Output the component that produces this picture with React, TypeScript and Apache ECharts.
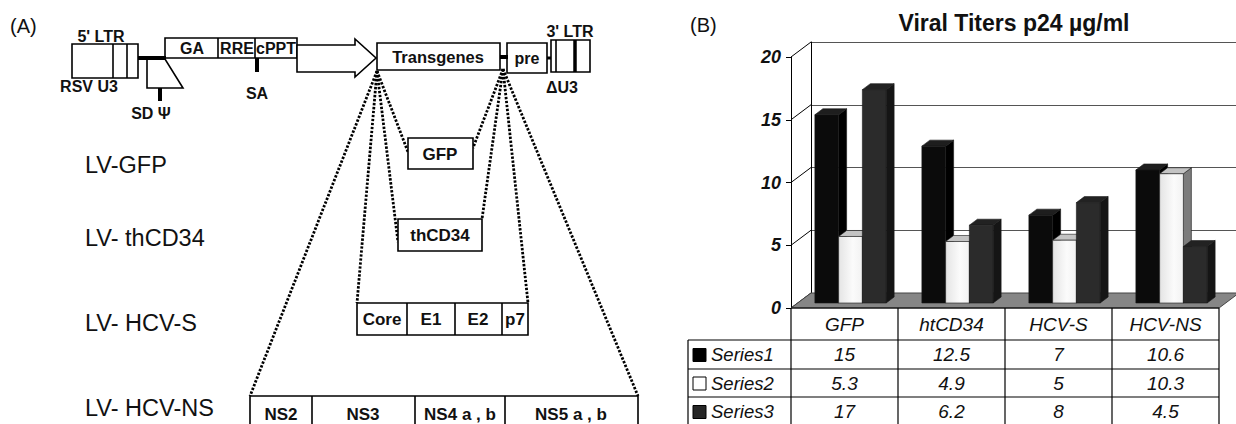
import React, { useEffect, useRef } from 'react';
import * as echarts from 'echarts';

// ---------- data ----------
const categories = ['GFP', 'htCD34', 'HCV-S', 'HCV-NS'];
const seriesNames = ['Series1', 'Series2', 'Series3'];
const series1 = [15, 12.5, 7, 10.6];
const series2 = [5.3, 4.9, 5, 10.3];
const series3 = [17, 6.2, 8, 4.5];
const yTicks = [0, 5, 10, 15, 20];
const chartTitle = 'Viral Titers p24 \u00b5g/ml';

const constructLabels = ['LV-GFP', 'LV- thCD34', 'LV- HCV-S', 'LV- HCV-NS'];
const vectorParts = ['GA', 'RRE', 'cPPT'];
const hcvSParts = ['Core', 'E1', 'E2', 'p7'];
const hcvNsParts = ['NS2', 'NS3', 'NS4 a , b', 'NS5 a , b'];

// ---------- styling / layout ----------
const FONT = '"Liberation Sans", Arial, Helvetica, sans-serif';
const FX = 791; // front plane left
const FY0 = 308; // value 0 on front plane
const FY20 = 57; // value 20 on front plane
const FW = 428; // front plane width
const DX = 20; // depth offset
const DY = -15;

const barStyles = [
  { front: '#0b0b0b', top: '#1e1e1e', side: '#000000' },
  { front: 'grad', top: '#c3c3c3', side: '#7c7c7c' },
  { front: '#2b2b2b', top: '#222222', side: '#151515' },
];
const legendFill = ['#000000', '#ffffff', '#262626'];

const allSeries = [series1, series2, series3];

function txt(t: string, x: number, y: number, size: number, weight = 'normal', align = 'center', style = 'normal') {
  return {
    type: 'text',
    z: 20,
    style: {
      text: t,
      x,
      y,
      fill: '#111',
      font: `${style} ${weight} ${size}px ${FONT}`,
      align,
      verticalAlign: 'middle',
      textAlign: align,
      textVerticalAlign: 'middle',
    },
  };
}
function box(x: number, y: number, w: number, h: number, lw = 1.6) {
  return { type: 'rect', z: 10, shape: { x, y, width: w, height: h }, style: { fill: '#fff', stroke: '#000', lineWidth: lw } };
}
function ln(x1: number, y1: number, x2: number, y2: number, lw = 1.6, dash?: number[]) {
  const style: any = { stroke: '#000', lineWidth: lw };
  if (dash) style.lineDash = dash;
  return { type: 'line', z: dash ? 5 : 11, shape: { x1, y1, x2, y2 }, style };
}
function poly(points: number[][], lw = 1.6) {
  return { type: 'polygon', z: 10, shape: { points }, style: { fill: '#fff', stroke: '#000', lineWidth: lw } };
}

const LBL = 16; // bold label size in panel A

function panelA() {
  const e: any[] = [];
  e.push(txt('(A)', 10, 26, 20, 'normal', 'left'));
  // 5' LTR
  e.push(txt("5' LTR", 101, 36, LBL, 'bold'));
  e.push(box(72, 44, 66, 34));
  e.push(ln(113, 44, 113, 78));
  e.push(ln(127, 44, 127, 78));
  e.push(txt('RSV U3', 89, 86, LBL, 'bold'));
  e.push(ln(138, 58, 166, 58, 4));
  e.push(poly([[147, 59], [165, 59], [183, 88], [147, 88]]));
  e.push(ln(160, 88, 160, 101, 4));
  e.push(txt('SD \u03a8', 151, 113, LBL, 'bold'));
  // GA / RRE / cPPT
  e.push(box(165, 38, 132, 20));
  e.push(ln(218, 38, 218, 58));
  e.push(ln(255, 38, 255, 58));
  const vpCx = [192, 237, 276];
  vectorParts.forEach((p, i) => e.push(txt(p, vpCx[i], 48, LBL, 'bold')));
  e.push(ln(257, 58, 257, 72, 4));
  e.push(txt('SA', 257, 93, LBL, 'bold'));
  // arrow
  e.push(poly([[297, 45], [355, 45], [355, 39], [376, 58], [355, 77], [355, 72], [297, 72]]));
  // transgenes
  e.push(box(377, 43, 123, 27));
  e.push(txt('Transgenes', 438, 57, 16.5, 'bold'));
  e.push(ln(500, 57, 508, 57, 4));
  e.push(box(507, 43, 40, 30));
  e.push(txt('pre', 527, 58, LBL, 'bold'));
  e.push(ln(547, 58, 551, 58, 3));
  e.push(box(551, 40, 39, 32));
  e.push(ln(556, 40, 556, 72, 1.6));
  e.push(ln(575, 40, 575, 72, 3.5));
  e.push(txt("3' LTR", 570, 31, LBL, 'bold'));
  e.push(txt('\u0394U3', 562, 87, LBL, 'bold'));

  // construct labels
  const labY = [165, 238, 323, 408];
  constructLabels.forEach((l, i) => e.push(txt(l, 85, labY[i], 23.5, 'normal', 'left')));

  // dotted fan lines
  const L = [377, 71];
  const R = [503, 69];
  const dash = [2.4, 1.6];
  [[408, 152], [398, 242], [357, 303], [250, 396]].forEach((p) => e.push(ln(L[0], L[1], p[0], p[1], 2.8, dash)));
  [[473, 148], [482, 219], [528, 303], [638, 396]].forEach((p) => e.push(ln(R[0], R[1], p[0], p[1], 2.8, dash)));

  // GFP
  e.push(box(408, 138, 65, 31));
  e.push(txt('GFP', 440, 154, 17, 'bold'));
  // thCD34
  e.push(box(398, 219, 84, 32));
  e.push(txt('thCD34', 440, 235, 17, 'bold'));
  // HCV-S
  e.push(box(357, 303, 171, 32));
  [407, 455, 502].forEach((x) => e.push(ln(x, 303, x, 335)));
  const sCx = [382, 431, 478, 515];
  hcvSParts.forEach((p, i) => e.push(txt(p, sCx[i], 319, 17, 'bold')));
  // HCV-NS
  e.push(box(250, 396, 388, 40));
  [312, 415, 505].forEach((x) => e.push(ln(x, 396, x, 436)));
  const nCx = [281, 363, 460, 571];
  hcvNsParts.forEach((p, i) => e.push(txt(p, nCx[i], 414, 17, 'bold')));
  return e;
}

function panelBStatic() {
  const e: any[] = [];
  e.push(txt('(B)', 690, 25, 20, 'normal', 'left'));
  e.push(txt(chartTitle, 1014, 23, 23, 'bold'));
  // data table
  const colW = FW / categories.length;
  const tLeft = 688;
  const rows = [FY0, 340, 369, 397, 426];
  const right = FX + FW;
  e.push(ln(FX, FY0, right, FY0, 1.2));
  for (let r = 1; r < rows.length; r++) e.push(ln(tLeft, rows[r], right, rows[r], 1.2));
  e.push(ln(tLeft, rows[1], tLeft, 430, 1.2));
  for (let c = 0; c <= categories.length; c++) e.push(ln(FX + c * colW, FY0, FX + c * colW, 430, 1.2));
  categories.forEach((c, i) => e.push(txt(c, FX + colW * (i + 0.5), (rows[0] + rows[1]) / 2, 19, 'normal', 'center', 'italic')));
  seriesNames.forEach((s, si) => {
    const cy = (rows[si + 1] + rows[si + 2]) / 2;
    e.push({ type: 'rect', z: 20, shape: { x: 693, y: cy - 6, width: 13, height: 13 }, style: { fill: legendFill[si], stroke: '#000', lineWidth: 1 } });
    e.push(txt(s, 711, cy, 18.5, 'normal', 'left', 'italic'));
    allSeries[si].forEach((v, ci) => e.push(txt(String(v), FX + colW * (ci + 0.5), cy, 19, 'normal', 'center', 'italic')));
  });
  return e;
}

function barRenderer(si: number) {
  return (params: any, api: any) => {
    const c = api.value(0);
    const v = api.value(1);
    const b = api.coord([c, 0]);
    const t = api.coord([c, v]);
    const band = api.size([1, 0])[0];
    const w = band * 0.222;
    const ox = 6;
    const oy = -5;
    const bx = 8;
    const by = -6;
    const x0 = b[0] - 1.5 * w + si * w + ox;
    const yb = b[1] + oy;
    const yt = t[1] + oy;
    const st = barStyles[si];
    const stroke = '#1a1a1a';
    const frontFill = st.front === 'grad'
      ? new echarts.graphic.LinearGradient(0, 0, 1, 0, [
          { offset: 0, color: '#e4e4e4' },
          { offset: 0.6, color: '#fbfbfb' },
          { offset: 1, color: '#f2f2f2' },
        ])
      : st.front;
    return {
      type: 'group',
      children: [
        { type: 'polygon', shape: { points: [[x0 + w, yt], [x0 + w + bx, yt + by], [x0 + w + bx, yb + by], [x0 + w, yb]] }, style: { fill: st.side, stroke, lineWidth: 0.6 } },
        { type: 'polygon', shape: { points: [[x0, yt], [x0 + w, yt], [x0 + w + bx, yt + by], [x0 + bx, yt + by]] }, style: { fill: st.top, stroke, lineWidth: 0.6 } },
        { type: 'rect', shape: { x: x0, y: yt, width: w, height: yb - yt }, style: { fill: frontFill, stroke, lineWidth: 0.6 } },
      ],
    };
  };
}

export default function App() {
  const ref = useRef<HTMLDivElement>(null);
  useEffect(() => {
    document.body.style.margin = '0';
    const chart = echarts.init(ref.current!, undefined, { renderer: 'svg' });
    const axisFont = { fontFamily: FONT, fontSize: 18, fontWeight: 'bold', fontStyle: 'italic', color: '#111' };
    const option: any = {
      animation: false,
      backgroundColor: '#fff',
      grid: [
        { left: FX, top: FY20, width: FW, height: FY0 - FY20 },
        { left: FX + DX, top: FY20 + DY, width: 1236 - FX - DX, height: FY0 - FY20 },
      ],
      xAxis: [
        { type: 'category', gridIndex: 0, data: categories, show: false },
        { type: 'category', gridIndex: 1, data: categories, show: false },
      ],
      yAxis: [
        {
          type: 'value', gridIndex: 0, min: 0, max: 20, interval: 5,
          axisLine: { show: true, lineStyle: { color: '#000', width: 1 } },
          axisTick: { show: true, length: 5, lineStyle: { color: '#000' } },
          axisLabel: { ...axisFont, margin: 10 },
          splitLine: { show: false },
        },
        {
          type: 'value', gridIndex: 1, min: 0, max: 20, interval: 5,
          axisLine: { show: true, lineStyle: { color: '#000', width: 1 } },
          axisTick: { show: false },
          axisLabel: { show: false },
          splitLine: { show: true, lineStyle: { color: '#555', width: 1 } },
        },
      ],
      graphic: { elements: [...panelA(), ...panelBStatic()] },
      series: [
        {
          type: 'custom', xAxisIndex: 0, yAxisIndex: 0, z: 1,
          data: yTicks.map((v) => [0, v]), encode: { x: 0, y: 1 },
          renderItem: (params: any, api: any) => {
            const y = api.coord([0, api.value(1)])[1];
            const x = params.coordSys.x;
            return { type: 'line', shape: { x1: x, y1: y, x2: x + DX, y2: y + DY }, style: { stroke: '#000', lineWidth: 1 } };
          },
        },
        {
          type: 'custom', xAxisIndex: 0, yAxisIndex: 0, z: 2,
          data: [[0, 0]], encode: { x: 0, y: 1 },
          renderItem: (params: any, api: any) => {
            const cs = params.coordSys;
            const y0 = api.coord([0, 0])[1];
            return {
              type: 'polygon',
              shape: { points: [[cs.x, y0], [cs.x + cs.width, y0], [cs.x + cs.width + DX, y0 + DY], [cs.x + DX, y0 + DY]] },
              style: { fill: '#868686', stroke: '#444', lineWidth: 1 },
            };
          },
        },
        ...allSeries.map((vals, si) => ({
          type: 'custom', name: seriesNames[si], xAxisIndex: 0, yAxisIndex: 0, z: 3,
          data: vals.map((v, i) => [i, v]), encode: { x: 0, y: 1 },
          renderItem: barRenderer(si),
        })),
      ],
    };
    chart.setOption(option);
    return () => chart.dispose();
  }, []);
  return <div ref={ref} style={{ width: 1236, height: 424 }} />;
}
